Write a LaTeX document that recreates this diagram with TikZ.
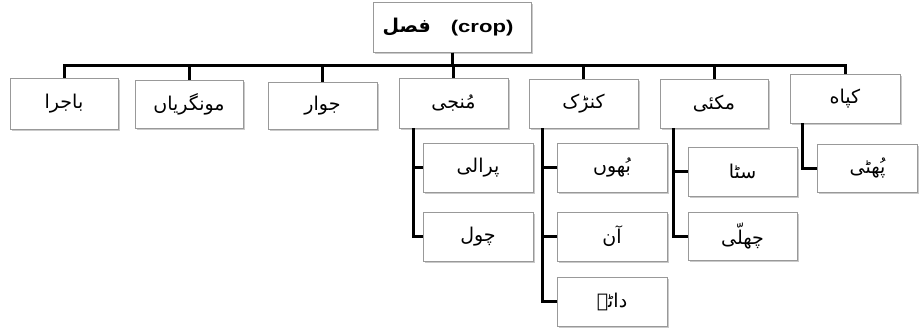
\documentclass[tikz,border=0pt]{standalone}
\usepackage{fontspec}
\setmainfont{Liberation Sans}
\newfontfamily\urdu[Script=Arabic]{DejaVu Sans}
\TeXXeTstate=1
\usetikzlibrary{shadows}
\newcommand{\ur}[1]{{\urdu\beginR #1\endR}}
\tikzset{
  box/.style={draw=black!40, line width=0.8pt, fill=white, minimum width=108pt, minimum height=49pt,
    inner sep=0pt, font=\fontsize{19}{21}\selectfont,
    drop shadow={shadow xshift=1.5pt, shadow yshift=-1.5pt, opacity=0.35, fill=black!60}},
  conn/.style={line width=3pt, black}
}
\begin{document}
\begin{tikzpicture}[x=1pt,y=-1pt]
\useasboundingbox (0,0) rectangle (919,327);
% root
\node[box, minimum width=158pt, minimum height=50pt] (root) at (452,27.5)
  {\hspace{-8pt}\textbf{\ur{فصل}}\hspace{20pt}\scalebox{1.3}[1]{\fontsize{17}{19}\selectfont\textbf{(crop)}}};
% level 1
\node[box, minimum height=51pt] (bajra) at (64,103.5) {\ur{باجرا}};
\node[box, minimum height=48pt] (mong) at (189,104) {\ur{مونگریاں}};
\node[box, minimum width=109pt, minimum height=47pt] (jowar) at (322.5,105.5) {\ur{جوار}};
\node[box, minimum width=109pt, minimum height=50pt] (munji) at (453.5,103) {\ur{مُنجی}};
\node[box, minimum width=109pt] (kanrak) at (583.5,103.5) {\ur{کنڑک}};
\node[box] (makai) at (714,103.5) {\ur{مکئی}};
\node[box, minimum width=110pt] (kapah) at (845,98.5) {\ur{کپاه}};
% level 2
\node[box, minimum width=110pt] (prali) at (478,167.5) {\ur{پرالی}};
\node[box, minimum width=110pt] (chol) at (478,236.5) {\ur{چول}};
\node[box, minimum width=110pt] (bhun) at (612,167.5) {\ur{بُھوں}};
\node[box, minimum width=110pt] (aan) at (612,236.5) {\ur{آن}};
\node[box, minimum width=110pt] (daane) at (612,301.5) {\ur{داڻے}};
\node[box, minimum width=109pt] (sitta) at (742.5,171.5) {\ur{سٹا}};
\node[box, minimum width=109pt, minimum height=48pt] (chhalli) at (742.5,236) {\ur{چھلّی}};
\node[box, minimum width=100pt, minimum height=48pt] (phutti) at (867.5,168) {\ur{پُھٹی}};
% connectors level 1
\coordinate (bus) at (0,65);
\foreach \n in {bajra,mong,jowar,munji,kanrak,makai,kapah}
  \draw[conn] (root.south) -- (root.south |- bus) -| (\n.north);
% trunks
\coordinate (tm) at (413,0);
\coordinate (tk) at (542,0);
\coordinate (tc) at (673,0);
\coordinate (tp) at (802,0);
\draw[conn] (tm |- munji.south) |- (chol.west);
\draw[conn] (tm |- prali.west) -- (prali.west);
\draw[conn] (tk |- kanrak.south) |- (daane.west);
\draw[conn] (tk |- bhun.west) -- (bhun.west);
\draw[conn] (tk |- aan.west) -- (aan.west);
\draw[conn] (tc |- makai.south) |- (chhalli.west);
\draw[conn] (tc |- sitta.west) -- (sitta.west);
\draw[conn] (tp |- kapah.south) |- (phutti.west);
\end{tikzpicture}
\end{document}
